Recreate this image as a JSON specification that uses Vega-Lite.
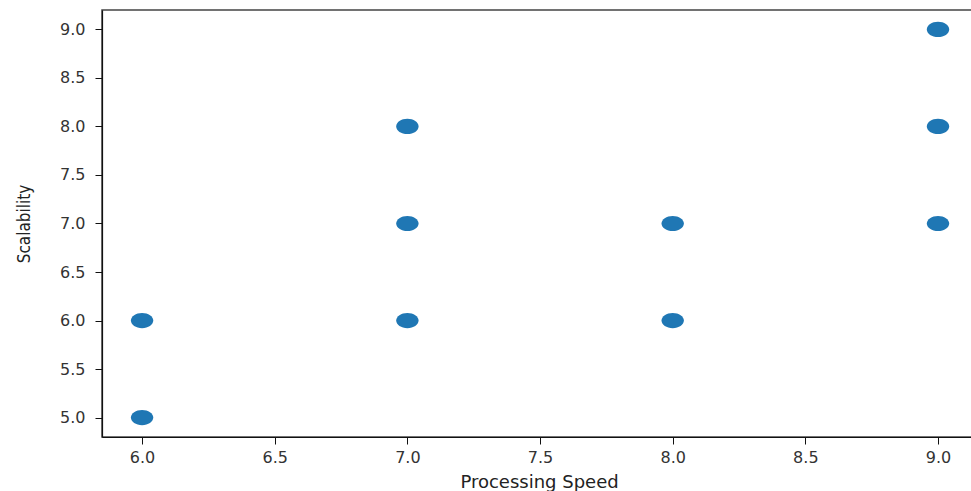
{
  "$schema": "https://vega.github.io/schema/vega-lite/v6.json",
  "width": 875,
  "height": 427,
  "autosize": {"type": "none"},
  "padding": {"left": 102, "top": 10, "right": 0, "bottom": 54},
  "background": "white",
  "config": {
    "view": {"stroke": "#444444", "strokeWidth": 1.5},
    "axis": {
      "grid": false,
      "domainColor": "#111111",
      "domainWidth": 1.2,
      "tickColor": "#111111",
      "tickSize": 7,
      "labelFont": "DejaVu Sans",
      "labelFontSize": 16,
      "labelColor": "#333333",
      "titleFont": "DejaVu Sans",
      "titleFontWeight": "normal",
      "titleColor": "#222222"
    }
  },
  "data": {
    "values": [
      {"speed": 6, "scal": 5},
      {"speed": 6, "scal": 6},
      {"speed": 7, "scal": 6},
      {"speed": 7, "scal": 7},
      {"speed": 7, "scal": 8},
      {"speed": 8, "scal": 6},
      {"speed": 8, "scal": 7},
      {"speed": 9, "scal": 7},
      {"speed": 9, "scal": 8},
      {"speed": 9, "scal": 9}
    ]
  },
  "mark": {
    "type": "point",
    "filled": true,
    "opacity": 1,
    "color": "#1f77b4",
    "size": 500,
    "shape": "M -1 0 A 1 0.68 0 1 0 1 0 A 1 0.68 0 1 0 -1 0 Z"
  },
  "encoding": {
    "x": {
      "field": "speed",
      "type": "quantitative",
      "scale": {"domain": [5.849, 9.147], "nice": false, "zero": false},
      "axis": {
        "title": "Processing Speed",
        "titleFontSize": 18,
        "titlePadding": 8,
        "titleX": 437,
        "values": [6, 6.5, 7, 7.5, 8, 8.5, 9],
        "format": ".1f",
        "labelPadding": 5
      }
    },
    "y": {
      "field": "scal",
      "type": "quantitative",
      "scale": {"domain": [4.8, 9.2], "nice": false, "zero": false},
      "axis": {
        "title": "Scalability",
        "titleFont": "DejaVu Sans Condensed, Liberation Sans Narrow, Roboto, sans-serif",
        "titleFontSize": 17,
        "titleX": -69,
        "values": [5, 5.5, 6, 6.5, 7, 7.5, 8, 8.5, 9],
        "format": ".1f",
        "labelPadding": 10
      }
    }
  }
}
